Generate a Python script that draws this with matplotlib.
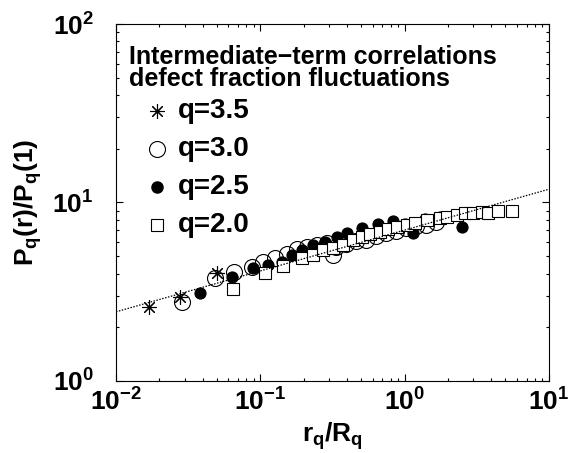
import matplotlib
matplotlib.use("Agg")
import matplotlib.pyplot as plt
from matplotlib.ticker import FixedLocator, LogLocator, NullFormatter

plt.rcParams["font.family"] = ["Liberation Sans", "DejaVu Sans"]
plt.rcParams["font.weight"] = "bold"
plt.rcParams["mathtext.fontset"] = "custom"
plt.rcParams["mathtext.rm"] = "Liberation Sans:bold"
plt.rcParams["mathtext.it"] = "Liberation Sans:bold"
plt.rcParams["mathtext.bf"] = "Liberation Sans:bold"

# q = 3.5 (asterisks)
x_q35 = [0.0169, 0.0278, 0.0499]
y_q35 = [2.61, 2.97, 4.01]

# q = 3.0 (open circles)
x_q30 = [0.0285, 0.0485, 0.0661, 0.0871, 0.105, 0.1265, 0.152, 0.179, 0.21,
         0.246, 0.288, 0.319, 0.335, 0.393, 0.46, 0.54, 0.634, 0.743, 0.871,
         1.023, 1.20, 1.41, 1.65]
y_q30 = [2.78, 3.76, 4.10, 4.37, 4.66, 4.87, 5.13, 5.47, 5.65,
         5.78, 5.95, 5.08, 5.63, 5.86, 6.09, 6.17, 6.49, 6.75, 6.92,
         7.20, 7.38, 7.48, 7.78]

# q = 2.5 (filled circles)
x_q25 = [0.0382, 0.064, 0.0886, 0.1136, 0.1407, 0.165, 0.1936, 0.233, 0.281,
         0.338, 0.397, 0.504, 0.658, 0.835, 1.007, 1.15, 1.38, 1.76, 2.49]
y_q25 = [3.13, 3.83, 4.30, 4.44, 4.66, 5.08, 5.42, 5.78, 6.03,
         6.43, 6.75, 7.24, 7.58, 7.88, 7.58, 6.72, 8.08, 8.30, 7.29]

# q = 2.0 (open squares)
x_q20 = [0.0644, 0.1078, 0.1443, 0.1936, 0.233, 0.2734, 0.3206, 0.376, 0.441,
         0.504, 0.576, 0.675, 0.771, 0.882, 1.034, 1.18, 1.42, 1.76, 1.96,
         2.30, 2.62, 2.99, 3.42, 3.80, 4.46, 5.52]
y_q20 = [3.26, 4.04, 4.41, 4.87, 5.05, 5.42, 5.58, 5.78, 6.17,
         6.43, 6.63, 6.86, 7.08, 7.32, 7.48, 7.65, 7.98, 8.16, 8.33,
         8.51, 8.70, 8.70, 8.88, 8.77, 8.96, 8.96]

# power-law fit line (end points)
fit_x = [0.01, 10.0]
fit_y = [2.44, 11.87]

legend_labels = ["q=3.5", "q=3.0", "q=2.5", "q=2.0"]
header = ["Intermediate\u2212term correlations", "defect fraction fluctuations"]

fig = plt.figure(figsize=(5.70, 4.53), dpi=100)
ax = fig.add_axes([0.2035, 0.159, 0.7595, 0.788])

star = (8, 2, 0)
ax.plot(x_q30, y_q30, "o", ms=11.5, mfc="none", mec="black", mew=0.8, zorder=2)
ax.plot(x_q25, y_q25, "o", ms=8, mfc="black", mec="black", mew=0.8, zorder=3)
ax.plot(x_q20, y_q20, "s", ms=8.2, mfc="white", mec="black", mew=0.8, zorder=4)
ax.plot(x_q35, y_q35, ls="none", marker=star, ms=10.5, mec="black", mew=0.8, zorder=5)
ax.plot(fit_x, fit_y, ls=(0, (1.2, 1.2)), color="black", lw=0.9, zorder=6)

ax.set_xscale("log")
ax.set_yscale("log")
ax.set_xlim(1e-2, 1e1)
ax.set_ylim(1e0, 1e2)

ax.xaxis.set_major_locator(FixedLocator([1e-2, 1e-1, 1e0, 1e1]))
ax.yaxis.set_major_locator(FixedLocator([1e0, 1e1, 1e2]))
ax.set_xticklabels([r"$10^{-2}$", r"$10^{-1}$", r"$10^{0}$", r"$10^{1}$"])
ax.set_yticklabels([r"$10^{0}$", r"$10^{1}$", r"$10^{2}$"])
ax.xaxis.set_minor_locator(LogLocator(base=10, subs=range(2, 10), numticks=20))
ax.yaxis.set_minor_locator(LogLocator(base=10, subs=range(2, 10), numticks=20))
ax.xaxis.set_minor_formatter(NullFormatter())
ax.yaxis.set_minor_formatter(NullFormatter())
ax.tick_params(which="both", direction="in", top=True, right=True, width=0.8)
ax.tick_params(which="major", length=5, labelsize=19)
ax.tick_params(which="minor", length=2.5)
ax.tick_params(axis="x", pad=5)
ax.tick_params(axis="y", pad=16)
for s in ax.spines.values():
    s.set_linewidth(0.8)

ax.set_xlabel(r"$r_q/R_q$", fontsize=19, labelpad=4)
ax.set_ylabel(r"$P_q(r)/P_q(1)$", fontsize=19, labelpad=6)

# legend drawn by hand (header + marker rows)
ax.text(0.031, 0.888, header[0], transform=ax.transAxes, fontsize=18,
        fontweight="bold", va="baseline")
ax.text(0.031, 0.826, header[1], transform=ax.transAxes, fontsize=18,
        fontweight="bold", va="baseline")
styles = [dict(marker=star, ms=10.5, mec="black", mew=0.8),
          dict(marker="o", ms=11.5, mfc="white", mec="black", mew=0.8),
          dict(marker="o", ms=8, mfc="black", mec="black"),
          dict(marker="s", ms=8.2, mfc="white", mec="black", mew=0.8)]
row_y = [0.737, 0.630, 0.524, 0.417]
for lab, st, yy in zip(legend_labels, styles, row_y):
    ax.plot([0.095], [yy + 0.02], transform=ax.transAxes, ls="none",
            clip_on=False, **st)
    ax.text(0.143, yy, lab, transform=ax.transAxes, fontsize=20,
            fontweight="bold", va="baseline")

fig.savefig("out.png", dpi=100)
